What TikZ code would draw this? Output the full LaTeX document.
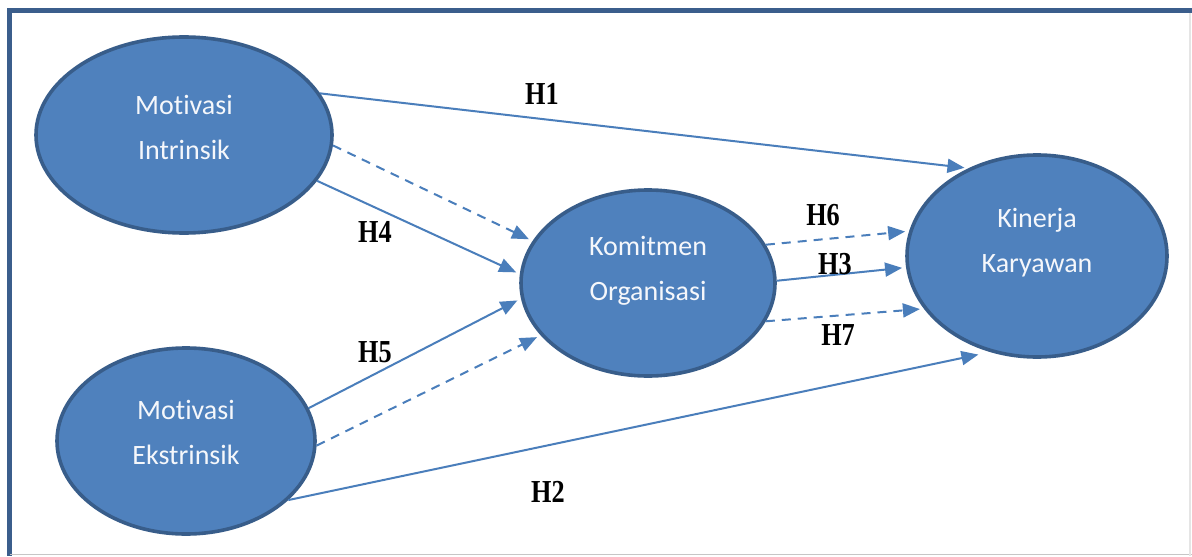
\documentclass[tikz,border=0pt]{standalone}
\usepackage{fontspec}
\usetikzlibrary{arrows.meta,shapes.geometric}
\newfontfamily\lvfont{Carlito}[Ligatures=NoCommon]
\newfontfamily\hypfont{Liberation Serif}[FakeStretch=0.82]
\definecolor{lvfill}{HTML}{4F81BD}
\definecolor{lvedge}{HTML}{385D8A}
\definecolor{pathcol}{HTML}{4A7EBB}
\definecolor{framecol}{HTML}{3B5E8C}

\tikzset{
  lv/.style={ellipse, draw=lvedge, fill=lvfill, line width=1.8pt, inner sep=0pt},
  lvtext/.style={align=center, text=white!94!lvfill, font=\lvfont\fontsize{14}{22.5}\selectfont},
  hyp/.style={font=\hypfont\bfseries\fontsize{16}{16}\selectfont},
  effect/.style={draw=pathcol, line width=1pt, shorten >=2pt, -{Triangle[length=8.5pt,width=7pt]}},
  indirect/.style={effect, dash pattern=on 4.5pt off 3.5pt}
}

\begin{document}
\begin{tikzpicture}[x=0.5pt, y=-0.5pt]
  \useasboundingbox (0,0) rectangle (1192,556);
  \fill[white] (0,0) rectangle (1192,556);
  \draw[framecol, line width=2.5pt] (1192,10.5) -- (9.5,10.5) -- (9.5,556);
  \draw[gray!45, line width=0.8pt] (9.5,554.5) -- (1192,554.5);
  \draw[gray!20, line width=0.8pt] (1190,13) -- (1190,556);

  \node[lv, minimum width=148pt, minimum height=98pt] (mi) at (184,135) {};
  \node[lv, minimum width=129pt, minimum height=93pt] (me) at (186,441) {};
  \node[lv, minimum width=127pt, minimum height=93pt] (ko) at (648,283) {};
  \node[lv, minimum width=130pt, minimum height=101pt] (kk) at (1037,256) {};

  \node[lvtext] (mitext) at ([yshift=4pt]mi.center) {Motivasi\\Intrinsik};
  \node[lvtext] (metext) at ([yshift=4.5pt]me.center) {Motivasi\\Ekstrinsik};
  \node[lvtext] (kotext) at ([yshift=6pt]ko.center) {Komitmen\\Organisasi};
  \node[lvtext] (kktext) at ([yshift=6.5pt]kk.center) {Kinerja\\Karyawan};

  \draw[effect] (mi.17) -- (kk.128);
  \draw[indirect] (mi.-4) -- (ko.160);
  \draw[effect] (mi.-19) -- (ko.176);
  \draw[effect] (me.15) -- (ko.187);
  \draw[indirect] (me.-2) -- (ko.206);
  \draw[effect, shorten >=6pt] (me.-30) -- (kk.244);
  \draw[indirect] (ko.18) -- (kk.169);
  \draw[effect] (ko.1) -- (kk.185);
  \draw[indirect] (ko.-18) -- (kk.205);

  \node[hyp] (h1) at (542,94) {H1};
  \node[hyp] (h2) at (548,492) {H2};
  \node[hyp] (h3) at (835,264) {H3};
  \node[hyp] (h4) at (375,232) {H4};
  \node[hyp] (h5) at (375,352) {H5};
  \node[hyp] (h6) at (823,215) {H6};
  \node[hyp] (h7) at (838,335) {H7};
\end{tikzpicture}
\end{document}
